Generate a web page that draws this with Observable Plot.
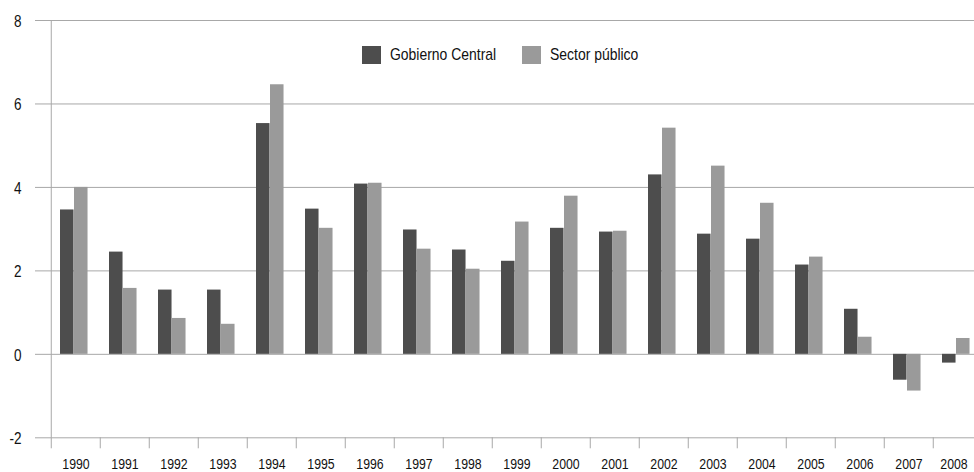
<!DOCTYPE html>
<html>
<head>
<meta charset="utf-8">
<script src="https://cdn.jsdelivr.net/npm/d3@7"></script>
<script src="https://cdn.jsdelivr.net/npm/@observablehq/plot@0.6"></script>
<style>
  html, body { margin: 0; padding: 0; background: #fff; }
  #wrap { position: relative; width: 974px; height: 472px; overflow: hidden; }
  #legend { position: absolute; left: 362px; top: 45px; display: flex; align-items: center; gap: 26px;
    font-family: "Liberation Sans", Arial, sans-serif;
    font-size: 17px; color: #111; }
  .item { display: flex; align-items: center; gap: 9px; }
  .sw { width: 19px; height: 18px; display: inline-block; }
  .lbl { display: inline-block; white-space: nowrap; transform-origin: left center; }
</style>
</head>
<body>
<div id="wrap"><div id="legend"></div></div>
<script>
const years = ["1990","1991","1992","1993","1994","1995","1996","1997","1998","1999",
               "2000","2001","2002","2003","2004","2005","2006","2007","2008"];
const gobiernoCentral = [3.46, 2.45, 1.54, 1.54, 5.53, 3.48, 4.08, 2.98, 2.50, 2.23,
                         3.02, 2.93, 4.30, 2.88, 2.76, 2.14, 1.08, -0.62, -0.21];
const sectorPublico   = [4.00, 1.58, 0.86, 0.72, 6.46, 3.02, 4.10, 2.52, 2.04, 3.17,
                         3.79, 2.95, 5.42, 4.51, 3.62, 2.33, 0.41, -0.88, 0.38];
const seriesNames = ["Gobierno Central", "Sector público"];
const seriesColors = ["#4d4d4d", "#9a9a9a"];
const yTicks = [-2, 0, 2, 4, 6, 8];

const data = years.flatMap((y, i) => [
  {year: y, series: seriesNames[0], value: gobiernoCentral[i]},
  {year: y, series: seriesNames[1], value: sectorPublico[i]}
]);

const xRange = [46, 986];
const step = (xRange[1] - xRange[0]) / years.length;
const font = '"Liberation Sans", Arial, sans-serif';
const gridColor = "#a8a8a8";
const narrow = 0.82; // emulate a narrow (condensed) face

const chart = Plot.plot({
  width: 974,
  height: 472,
  marginLeft: 46,
  marginRight: 0,
  marginTop: 20,
  marginBottom: 34.7,
  style: {fontFamily: font, fontSize: "15px", color: "#111", background: "#fff"},
  x: {type: "band", domain: years, range: xRange, padding: 0, label: null},
  y: {domain: [-2, 8], ticks: yTicks, label: null},
  color: {domain: seriesNames, range: seriesColors},
  marks: [
    Plot.ruleY(yTicks, {stroke: gridColor, insetLeft: -11}),
    Plot.ruleX(years, {x: d => d, y1: -2, y2: -2, insetBottom: -11, dx: -step / 2, stroke: gridColor}),
    Plot.ruleX([years[0]], {x: d => d, y1: 8, y2: -2, dx: -step / 2, stroke: gridColor}),
    Plot.barY(data.filter(d => d.series === seriesNames[0]), {
      x: "year", y: "value", fill: "series", insetLeft: 9, insetRight: step - 23
    }),
    Plot.barY(data.filter(d => d.series === seriesNames[1]), {
      x: "year", y: "value", fill: "series", insetLeft: 23, insetRight: step - 37
    }),
    Plot.axisY({ticks: yTicks, tickSize: 0, tickPadding: 25, fontSize: 16.5, dy: 1, label: null, tickFormat: d => String(d)}),
    Plot.axisX({tickSize: 0, tickPadding: 21, fontSize: 15, label: null})
  ]
});
document.getElementById("wrap").prepend(chart);

// condense tick labels
chart.querySelectorAll("text").forEach(t => {
  const len = t.getComputedTextLength();
  if (len > 0) {
    t.setAttribute("textLength", (len * narrow).toFixed(2));
    t.setAttribute("lengthAdjust", "spacingAndGlyphs");
  }
});
// keep the last year label inside the picture, as in the reference
Array.from(chart.querySelectorAll("text"))
  .filter(t => t.textContent === years[years.length - 1])
  .forEach(t => {
    const tr = t.getAttribute("transform") || "";
    t.setAttribute("transform", tr + " translate(-4,0)");
  });

const legend = document.getElementById("legend");
seriesNames.forEach((name, i) => {
  const item = document.createElement("div");
  item.className = "item";
  const sw = document.createElement("span");
  sw.className = "sw";
  sw.style.background = seriesColors[i];
  const box = document.createElement("span");
  box.style.display = "inline-block";
  const label = document.createElement("span");
  label.className = "lbl";
  label.textContent = name;
  box.append(label);
  item.append(sw, box);
  legend.append(item);
  const w = label.getBoundingClientRect().width;
  box.style.width = (w * narrow).toFixed(1) + "px";
  label.style.transform = `scaleX(${narrow})`;
});
</script>
</body>
</html>
